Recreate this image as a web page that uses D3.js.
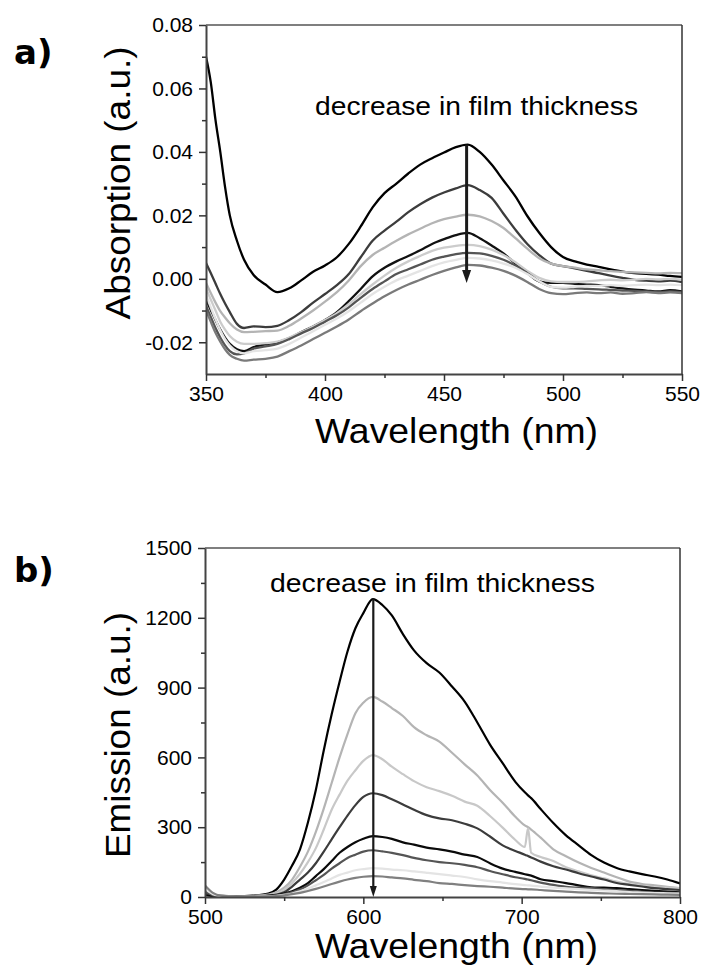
<!DOCTYPE html>
<html>
<head>
<meta charset="utf-8">
<script src="https://cdn.jsdelivr.net/npm/d3@7"></script>
<style>
  body { margin: 0; background: #fff; }
  svg { display: block; }
</style>
</head>
<body>
<svg id="drawing_region"></svg>
<script>
// ---- a) absorption spectra (8 films, thick -> thin) ----
const absWavelength = [350,352,354,356,358,360,363,366,370,375,380,385,390,395,400,405,410,415,420,425,430,435,440,445,450,455,460,465,470,475,480,485,490,495,500,505,510,515,520,525,530,535,540,545,550];
const absFilm1 = [0.070,0.062,0.050,0.040,0.029,0.020,0.012,0.006,0.0012,-0.0018,-0.0042,-0.003,-0.0005,0.0022,0.0042,0.0068,0.011,0.0165,0.0225,0.027,0.030,0.0332,0.036,0.038,0.0398,0.0415,0.0423,0.040,0.036,0.031,0.026,0.0198,0.0145,0.010,0.0069,0.0055,0.0045,0.0038,0.003,0.0023,0.0018,0.0016,0.0013,0.0009,0.0006];
const absFilm2 = [0.005,0.0018,-0.0015,-0.0048,-0.0078,-0.0105,-0.0142,-0.0155,-0.015,-0.0152,-0.0148,-0.013,-0.0105,-0.0075,-0.0048,-0.002,0.0015,0.0068,0.012,0.0152,0.018,0.021,0.0235,0.0256,0.0272,0.0285,0.0295,0.028,0.0255,0.0205,0.0155,0.011,0.0075,0.0048,0.004,0.0033,0.0025,0.0018,0.001,0.0003,-0.0003,-0.0006,-0.0008,-0.0006,-0.001];
const absFilm3 = [-0.0013,-0.0045,-0.0075,-0.0102,-0.0122,-0.014,-0.016,-0.0168,-0.0167,-0.0165,-0.0163,-0.0148,-0.0125,-0.010,-0.0072,-0.0042,-0.0005,0.004,0.0075,0.0098,0.012,0.014,0.0158,0.0175,0.0188,0.0196,0.0202,0.0197,0.0182,0.016,0.0128,0.0095,0.0065,0.0048,0.004,0.0035,0.003,0.0027,0.0024,0.0022,0.002,0.0019,0.0017,0.0019,0.0018];
const absFilm4 = [-0.0066,-0.0098,-0.013,-0.016,-0.0185,-0.0205,-0.0222,-0.0228,-0.0215,-0.0207,-0.020,-0.0187,-0.0168,-0.015,-0.013,-0.0105,-0.007,-0.0032,0.0008,0.0035,0.0055,0.0072,0.009,0.011,0.0125,0.0138,0.0145,0.0128,0.0105,0.008,0.0048,0.0018,-0.0008,-0.0013,-0.0013,-0.0016,-0.0018,-0.002,-0.0025,-0.003,-0.0034,-0.0037,-0.004,-0.0036,-0.004];
const absFilm5 = [-0.003,-0.0065,-0.010,-0.0135,-0.016,-0.018,-0.0198,-0.0205,-0.0205,-0.0203,-0.0198,-0.0185,-0.0168,-0.015,-0.013,-0.0108,-0.008,-0.0048,-0.0018,0.001,0.0035,0.0055,0.0072,0.0088,0.0098,0.0104,0.0107,0.0103,0.0092,0.0075,0.0052,0.0025,0.0003,-0.0008,-0.001,-0.001,-0.0008,-0.0005,-0.0003,-0.0005,-0.0003,0.0,-0.0002,0.0,-0.0003];
const absFilm6 = [-0.0085,-0.012,-0.0155,-0.0185,-0.021,-0.0228,-0.0238,-0.0235,-0.022,-0.0213,-0.0205,-0.019,-0.0172,-0.0155,-0.0135,-0.0115,-0.009,-0.006,-0.0032,-0.0008,0.0015,0.003,0.0045,0.006,0.007,0.0078,0.0082,0.008,0.0072,0.006,0.0042,0.0018,-0.0008,-0.0025,-0.003,-0.003,-0.0032,-0.0033,-0.0035,-0.0037,-0.0038,-0.004,-0.0042,-0.004,-0.0042];
const absFilm7 = [-0.005,-0.009,-0.0128,-0.0162,-0.019,-0.021,-0.0228,-0.0235,-0.0228,-0.0225,-0.022,-0.0205,-0.0185,-0.0165,-0.0145,-0.0125,-0.0102,-0.0075,-0.0048,-0.0025,-0.0005,0.001,0.0025,0.004,0.0052,0.006,0.0066,0.0064,0.0058,0.0048,0.0035,0.0015,-0.0008,-0.0025,-0.0028,-0.0025,-0.0022,-0.0022,-0.002,-0.0022,-0.002,-0.0018,-0.002,-0.0018,-0.002];
const absFilm8 = [-0.0098,-0.0135,-0.017,-0.0198,-0.0222,-0.024,-0.0252,-0.0258,-0.0255,-0.0252,-0.0245,-0.0228,-0.021,-0.019,-0.017,-0.015,-0.0128,-0.0102,-0.0078,-0.0055,-0.0035,-0.0018,-0.0003,0.0012,0.0025,0.0036,0.0044,0.0042,0.0035,0.0025,0.001,-0.001,-0.0032,-0.0045,-0.0048,-0.0045,-0.0043,-0.0045,-0.0043,-0.0047,-0.0045,-0.0042,-0.0045,-0.0043,-0.0045];
const absXTicks = [350, 400, 450, 500, 550];
const absXMinor = [375, 425, 475, 525];
const absYTicks = [-0.02, 0.00, 0.02, 0.04, 0.06, 0.08];
const absYMinor = [-0.01, 0.01, 0.03, 0.05, 0.07];
const absArrow = { x: 459.5, from: 0.0423, to: -0.0013 };

// ---- b) emission spectra ----
const emWavelength = [500,505,510,520,530,540,545,550,555,560,565,570,575,580,585,590,595,600,606,612,618,625,632,640,648,656,664,672,680,688,696,702,704,706,712,720,728,736,744,752,760,768,776,784,792,800];
const emFilm1 = [40,12,5,3,6,15,32,75,135,205,320,460,630,785,925,1055,1155,1220,1280,1255,1210,1130,1060,1005,965,905,840,750,655,575,495,450,437,425,378,318,265,222,180,148,125,110,98,88,75,58];
const emFilm2 = [30,10,4,2,4,10,20,40,75,130,195,280,380,490,600,700,790,835,860,840,812,778,730,695,668,620,570,522,460,405,345,308,300,290,255,205,175,148,125,105,85,66,56,50,44,38];
const emFilm3 = [45,14,5,2,4,8,14,30,60,100,150,210,290,375,440,500,545,585,610,592,560,528,498,472,455,435,410,392,348,298,245,215,295,190,172,155,128,110,93,80,66,55,48,42,40,38];
const emFilm4 = [20,8,3,2,3,6,10,20,45,75,105,145,195,248,300,350,395,430,446,438,420,398,375,352,338,330,315,295,260,222,198,182,176,170,152,132,118,102,88,75,60,52,45,38,34,30];
const emFilm5 = [8,4,2,1,2,5,8,15,25,40,60,90,120,155,190,215,235,250,262,258,250,235,225,212,205,195,182,172,145,122,108,98,95,92,76,68,60,50,42,40,38,34,30,26,23,20];
const emFilm6 = [25,8,3,1,2,4,6,12,20,32,50,72,95,122,145,168,182,195,201,196,190,180,168,158,150,145,138,128,112,98,85,78,75,72,62,52,44,40,38,34,30,26,22,19,18,17];
const emFilm7 = [35,12,4,1,2,3,5,9,15,24,36,50,64,80,95,105,115,120,124,122,118,115,110,104,98,92,86,76,68,62,55,51,50,49,45,40,37,34,31,28,25,21,19,17,16,15];
const emFilm8 = [50,18,6,2,2,3,4,7,12,18,26,35,45,56,66,75,82,87,90,88,84,80,74,68,60,56,51,47,44,40,36,34,33,33,30,26,23,20,18,16,14,13,12,11,10,9];
const emXTicks = [500, 600, 700, 800];
const emXMinor = [550, 650, 750];
const emYTicks = [0, 300, 600, 900, 1200, 1500];
const emYMinor = [150, 450, 750, 1050, 1350];
const emArrow = { x: 606.3, from: 1280, to: 0 };

const noteText = 'decrease in film thickness';

class SpectraPanel {

    constructor( config, xs, series ) {
        this.config = config;
        this.xs = xs;
        this.series = series;
        this.init();
    }

    init() {
        let self = this;
        const c = self.config;

        self.g = c.svg.append('g')
            .attr('transform', `translate(${c.left}, ${c.top})`);

        self.x = d3.scaleLinear().domain(c.xDomain).range([0, c.width]);
        self.y = d3.scaleLinear().domain(c.yDomain).range([c.height, 0]);

        self.g.append('clipPath').attr('id', c.id + '_clip')
            .append('rect').attr('width', c.width).attr('height', c.height);
    }

    render() {
        let self = this;
        const c = self.config;
        const g = self.g;

        // curves
        const line = d3.line()
            .x((d, i) => self.x(self.xs[i]))
            .y(d => self.y(d))
            .curve(d3.curveMonotoneX);

        g.append('g').attr('clip-path', `url(#${c.id}_clip)`)
            .selectAll('path')
            .data(self.series)
            .join('path')
            .attr('d', line)
            .attr('fill', 'none')
            .attr('stroke', (d, i) => c.colors[i])
            .attr('stroke-width', c.lineWidth)
            .attr('stroke-linejoin', 'round');

        // frame: top and right
        g.append('line').attr('x1', 0).attr('x2', c.width).attr('y1', 0).attr('y2', 0)
            .attr('stroke', '#000').attr('stroke-width', 1.2);
        g.append('line').attr('x1', c.width).attr('x2', c.width).attr('y1', 0).attr('y2', c.height)
            .attr('stroke', '#333').attr('stroke-width', 1.5);

        // axes
        const xAxis = d3.axisBottom(self.x).tickValues(c.xTicks)
            .tickSize(7).tickPadding(5).tickSizeOuter(0);
        const xMinor = d3.axisBottom(self.x).tickValues(c.xMinor)
            .tickSize(4).tickFormat('').tickSizeOuter(0);
        const yAxis = d3.axisLeft(self.y).tickValues(c.yTicks)
            .tickSize(7).tickPadding(6).tickSizeOuter(0).tickFormat(c.yFormat);
        const yMinor = d3.axisLeft(self.y).tickValues(c.yMinor)
            .tickSize(4).tickFormat('').tickSizeOuter(0);

        g.append('g').attr('transform', `translate(0, ${c.height})`).call(xAxis);
        g.append('g').attr('transform', `translate(0, ${c.height})`).call(xMinor)
            .select('.domain').remove();
        g.append('g').call(yAxis);
        g.append('g').call(yMinor).select('.domain').remove();

        g.selectAll('.domain').attr('stroke', '#444').attr('stroke-width', 2);
        g.selectAll('.tick line').attr('stroke', '#333').attr('stroke-width', 1.5);
        g.selectAll('.tick text')
            .attr('fill', '#000')
            .style('font-family', '"Liberation Sans", Arial, sans-serif')
            .style('font-size', '21px');

        // arrow
        const ax = self.x(c.arrow.x);
        const ay0 = self.y(c.arrow.from);
        const ay1 = self.y(c.arrow.to);
        g.append('line')
            .attr('x1', ax).attr('x2', ax)
            .attr('y1', ay0).attr('y2', ay1 - c.headLen + 1)
            .attr('stroke', '#1a1a1a').attr('stroke-width', c.arrowWidth);
        g.append('path')
            .attr('d', `M${ax - c.headHalf},${ay1 - c.headLen}L${ax + c.headHalf},${ay1 - c.headLen}L${ax},${ay1}Z`)
            .attr('fill', '#1a1a1a');

        // texts (page coordinates)
        const svg = c.svg;
        svg.append('text')
            .attr('x', 14).attr('y', c.labelY)
            .style('font-family', '"DejaVu Sans", Verdana, sans-serif')
            .style('font-weight', 'bold')
            .style('font-size', '34px')
            .text(c.label);

        svg.append('text')
            .attr('x', c.noteX).attr('y', c.noteY)
            .attr('textLength', c.noteLen).attr('lengthAdjust', 'spacingAndGlyphs')
            .style('font-family', '"Liberation Sans", Arial, sans-serif')
            .style('font-size', '26px')
            .text(noteText);

        svg.append('text')
            .attr('x', 315).attr('y', c.xTitleY)
            .attr('textLength', 283).attr('lengthAdjust', 'spacingAndGlyphs')
            .style('font-family', '"Liberation Sans", Arial, sans-serif')
            .style('font-size', '35px')
            .text('Wavelength (nm)');

        svg.append('text')
            .attr('transform', `translate(130, ${c.yTitleY}) rotate(-90)`)
            .attr('x', -c.yTitleLen / 2).attr('y', 0)
            .attr('textLength', c.yTitleLen).attr('lengthAdjust', 'spacingAndGlyphs')
            .style('font-family', '"Liberation Sans", Arial, sans-serif')
            .style('font-size', '35px')
            .text(c.yTitle);
    }
}

const svg = d3.select('#drawing_region')
    .attr('width', 701)
    .attr('height', 973);

const panelA = new SpectraPanel({
    svg: svg, id: 'pa',
    left: 206, top: 25, width: 476, height: 349,
    xDomain: [350, 550], yDomain: [-0.03, 0.08],
    xTicks: absXTicks, xMinor: absXMinor, yTicks: absYTicks, yMinor: absYMinor,
    yFormat: d => d.toFixed(2),
    colors: ['#000000', '#3c3c3c', '#b4b4b4', '#111111', '#cccccc', '#555555', '#e4e4e4', '#7a7a7a'],
    lineWidth: 2.3,
    arrow: absArrow, arrowWidth: 3, headLen: 13, headHalf: 4.5,
    label: 'a)', labelY: 64,
    noteX: 315, noteY: 115, noteLen: 323,
    xTitleY: 443,
    yTitle: 'Absorption (a.u.)', yTitleY: 183, yTitleLen: 273
}, absWavelength, [absFilm1, absFilm2, absFilm3, absFilm4, absFilm5, absFilm6, absFilm7, absFilm8]);
panelA.render();

const panelB = new SpectraPanel({
    svg: svg, id: 'pb',
    left: 205, top: 548, width: 475, height: 349,
    xDomain: [500, 800], yDomain: [0, 1500],
    xTicks: emXTicks, xMinor: emXMinor, yTicks: emYTicks, yMinor: emYMinor,
    yFormat: d3.format('d'),
    colors: ['#000000', '#b4b4b4', '#c8c8c8', '#3c3c3c', '#0a0a0a', '#555555', '#e4e4e4', '#808080'],
    lineWidth: 2.2,
    arrow: emArrow, arrowWidth: 2.2, headLen: 11, headHalf: 3.5,
    label: 'b)', labelY: 582,
    noteX: 270, noteY: 592, noteLen: 325,
    xTitleY: 958,
    yTitle: 'Emission (a.u.)', yTitleY: 735, yTitleLen: 246
}, emWavelength, [emFilm1, emFilm2, emFilm3, emFilm4, emFilm5, emFilm6, emFilm7, emFilm8]);
panelB.render();
</script>
</body>
</html>
